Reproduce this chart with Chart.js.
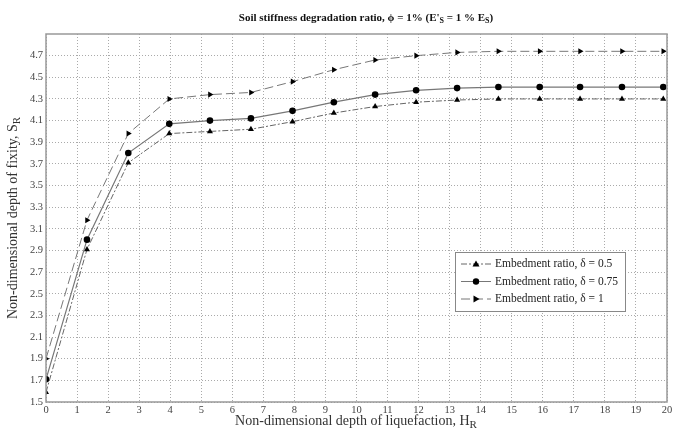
<!DOCTYPE html>
<html>
<head>
<meta charset="utf-8">
<script src="https://cdn.jsdelivr.net/npm/chart.js@4.4.0/dist/chart.umd.min.js"></script>
<style>
  html, body { margin: 0; padding: 0; background: #fff; }
  #wrap { width: 675px; height: 432px; }
</style>
</head>
<body>
<div id="wrap"><canvas id="myChart" width="675" height="432"></canvas></div>
<script>
// data
const depthH = [0, 1.32, 2.65, 3.97, 5.28, 6.6, 7.94, 9.27, 10.6, 11.92, 13.24, 14.57, 15.9, 17.2, 18.55, 19.88];
const delta05 = [1.59, 2.91, 3.71, 3.98, 4.0, 4.02, 4.09, 4.17, 4.23, 4.27, 4.29, 4.3, 4.3, 4.3, 4.3, 4.3];
const delta075 = [1.71, 3.0, 3.8, 4.07, 4.1, 4.12, 4.19, 4.27, 4.34, 4.38, 4.4, 4.41, 4.41, 4.41, 4.41, 4.41];
const delta1 = [1.9, 3.18, 3.98, 4.3, 4.34, 4.36, 4.46, 4.57, 4.66, 4.7, 4.73, 4.74, 4.74, 4.74, 4.74, 4.74];

const xTicks = [0, 1, 2, 3, 4, 5, 6, 7, 8, 9, 10, 11, 12, 13, 14, 15, 16, 17, 18, 19, 20];
const yTicks = [1.5, 1.7, 1.9, 2.1, 2.3, 2.5, 2.7, 2.9, 3.1, 3.3, 3.5, 3.7, 3.9, 4.1, 4.3, 4.5, 4.7];

const legendLabels = ["Embedment ratio, δ = 0.5", "Embedment ratio, δ = 0.75", "Embedment ratio, δ = 1"];

const SERIF = "'Liberation Serif', 'DejaVu Serif', serif";

const toPoints = (ys) => ys.map((y, i) => ({ x: depthH[i], y: y }));

// draws a run of text pieces, [text, isSubscript]
const drawParts = (ctx, parts, x, y, size, bold, align) => {
  const main = (bold ? "bold " : "") + size + "px " + SERIF;
  const sub = (bold ? "bold " : "") + Math.round(size * 0.75) + "px " + SERIF;
  let total = 0;
  parts.forEach((p) => {
    ctx.font = p[1] ? sub : main;
    total += ctx.measureText(p[0]).width;
  });
  let cx = align === "center" ? x - total / 2 : x;
  ctx.textAlign = "left";
  ctx.textBaseline = "middle";
  parts.forEach((p) => {
    ctx.font = p[1] ? sub : main;
    ctx.fillText(p[0], cx, p[1] ? y + size * 0.3 : y);
    cx += ctx.measureText(p[0]).width;
  });
};

const decorations = {
  id: "decorations",
  afterDraw(chart) {
    const ctx = chart.ctx;
    const a = chart.chartArea;
    ctx.save();

    // frame
    ctx.strokeStyle = "#999";
    ctx.lineWidth = 1.5;
    ctx.strokeRect(a.left, a.top, a.right - a.left, a.bottom - a.top);

    // title
    ctx.fillStyle = "#111";
    drawParts(ctx, [["Soil stiffness degradation ratio, ϕ = 1% (E'", false], ["S", true], [" = 1 % E", false], ["S", true], [")", false]],
      366, 18, 11, true, "center");

    // axis titles
    ctx.fillStyle = "#333";
    drawParts(ctx, [["Non-dimensional depth of liquefaction, H", false], ["R", true]],
      356, 421, 14, false, "center");
    ctx.save();
    ctx.translate(13, (a.top + a.bottom) / 2);
    ctx.rotate(-Math.PI / 2);
    drawParts(ctx, [["Non-dimensional depth of fixity, S", false], ["R", true]], 0, 0, 14, false, "center");
    ctx.restore();

    // legend box
    const bx = 455, by = 252, bw = 170, bh = 59;
    ctx.fillStyle = "#fff";
    ctx.fillRect(bx, by, bw, bh);
    ctx.strokeStyle = "#888";
    ctx.lineWidth = 1;
    ctx.strokeRect(bx + 0.5, by + 0.5, bw, bh);
    chart.data.datasets.forEach((ds, i) => {
      const ly = by + 12 + i * 17.5;
      ctx.strokeStyle = ds.borderColor;
      ctx.lineWidth = 1;
      ctx.setLineDash(ds.borderDash || []);
      ctx.beginPath();
      ctx.moveTo(bx + 6, ly);
      ctx.lineTo(bx + 36, ly);
      ctx.stroke();
      ctx.setLineDash([]);
      ctx.fillStyle = "#000";
      const mx = bx + 21;
      ctx.beginPath();
      if (ds.pointStyle === "circle") {
        ctx.arc(mx, ly, 3.2, 0, Math.PI * 2);
      } else if (ds.pointRotation === 90) {
        ctx.moveTo(mx + 3.5, ly);
        ctx.lineTo(mx - 2.5, ly - 3.5);
        ctx.lineTo(mx - 2.5, ly + 3.5);
      } else {
        ctx.moveTo(mx, ly - 3.5);
        ctx.lineTo(mx + 3.5, ly + 2.5);
        ctx.lineTo(mx - 3.5, ly + 2.5);
      }
      ctx.closePath();
      ctx.fill();
      ctx.fillStyle = "#222";
      ctx.font = "11.5px " + SERIF;
      ctx.textAlign = "left";
      ctx.textBaseline = "middle";
      ctx.fillText(ds.label, bx + 40, ly);
    });
    ctx.restore();
  },
};

const data = {
  datasets: [
    {
      label: legendLabels[0],
      data: toPoints(delta05),
      borderColor: "#666",
      borderWidth: 1,
      borderDash: [6, 2, 2, 2],
      pointStyle: "triangle",
      pointRadius: 3.5,
      pointBackgroundColor: "#000",
      pointBorderColor: "#000",
      pointBorderWidth: 0,
    },
    {
      label: legendLabels[1],
      data: toPoints(delta075),
      borderColor: "#777",
      borderWidth: 1.2,
      pointStyle: "circle",
      pointRadius: 3.3,
      pointBackgroundColor: "#000",
      pointBorderColor: "#000",
      pointBorderWidth: 0,
    },
    {
      label: legendLabels[2],
      data: toPoints(delta1),
      borderColor: "#777",
      borderWidth: 1,
      borderDash: [9, 4],
      pointStyle: "triangle",
      pointRotation: 90,
      pointRadius: 3.5,
      pointBackgroundColor: "#000",
      pointBorderColor: "#000",
      pointBorderWidth: 0,
    },
  ],
};

const gridStyle = { color: "#aaa", lineWidth: 1, drawTicks: false };

const config = {
  type: "line",
  data: data,
  options: {
    responsive: false,
    animation: false,
    layout: { padding: { top: 34, right: 8, left: 0, bottom: 0 } },
    plugins: { legend: { display: false }, tooltip: { enabled: false } },
    elements: { line: { tension: 0 } },
    scales: {
      x: {
        type: "linear",
        min: 0,
        max: 20,
        grid: gridStyle,
        border: { display: false, dash: [1, 2] },
        afterBuildTicks: (scale) => { scale.ticks = xTicks.map((v) => ({ value: v })); },
        afterFit: (scale) => { scale.height = 30; },
        ticks: { autoSkip: false, maxRotation: 0, padding: 2, color: "#444", font: { family: SERIF, size: 10.5 } },
      },
      y: {
        type: "linear",
        min: 1.5,
        max: 4.9,
        grid: gridStyle,
        border: { display: false, dash: [1, 2] },
        afterBuildTicks: (scale) => { scale.ticks = yTicks.map((v) => ({ value: v })); },
        afterFit: (scale) => { scale.width = 46; },
        ticks: { autoSkip: false, padding: 3, color: "#444", font: { family: SERIF, size: 10.5 }, callback: (v) => v.toFixed(1) },
      },
    },
  },
  plugins: [decorations],
};

const myChart = new Chart(document.getElementById("myChart"), config);
</script>
</body>
</html>
